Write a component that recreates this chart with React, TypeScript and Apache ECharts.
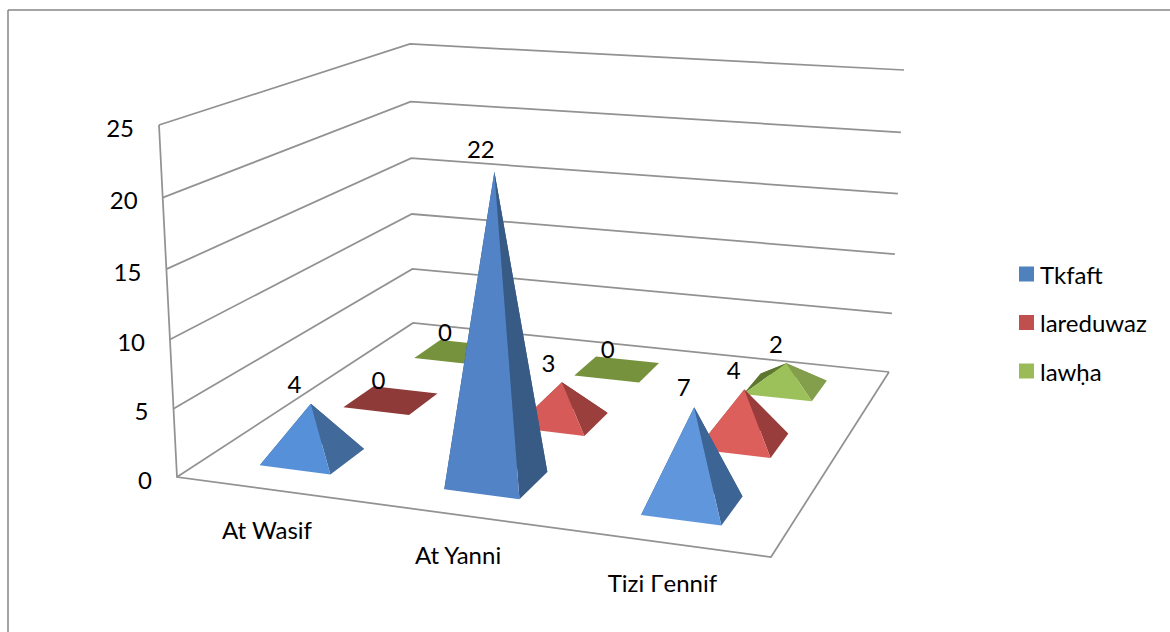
import React, { useEffect, useRef } from "react";
import * as echarts from "echarts";

const categories = ["At Wasif", "At Yanni", "Tizi Γennif"];
const tkfaft = [4, 22, 7];
const lareduwaz = [0, 3, 4];
const lawha = [0, 0, 2];
const seriesNames = ["Tkfaft", "lareduwaz", "lawḥa"];
const ticks = [0, 5, 10, 15, 20, 25];

const FONT = "Lato, Carlito, 'Noto Sans', sans-serif";
const FONT_SIZE = 24;
const AXIS = "#929292";
const MAX = 25;

type P = [number, number];
// floor corners and vertical vectors for the full axis height (view set-up)
const FL: P = [177, 477], FR: P = [771, 557], BR: P = [889, 372], BL: P = [413, 323];
const UP_FL: P = [-18, -352], UP_FR: P = [10, -378], UP_BR: P = [15, -302], UP_BL: P = [-3, -279];
const PERSPECTIVE = 0.04;

const H = (() => {
  const [x0, y0] = FL, [x1, y1] = FR, [x2, y2] = BR, [x3, y3] = BL;
  const dx1 = x1 - x2, dx2 = x3 - x2, sx = x0 - x1 + x2 - x3;
  const dy1 = y1 - y2, dy2 = y3 - y2, sy = y0 - y1 + y2 - y3;
  const d = dx1 * dy2 - dx2 * dy1;
  const g = (sx * dy2 - dx2 * sy) / d, h = (dx1 * sy - sx * dy1) / d;
  return { a: x1 - x0 + g * x1, b: x3 - x0 + h * x3, c: x0, d: y1 - y0 + g * y1, e: y3 - y0 + h * y3, f: y0, g, h };
})();

function floor(u: number, v: number): P {
  const w = H.g * u + H.h * v + 1;
  return [(H.a * u + H.b * v + H.c) / w, (H.d * u + H.e * v + H.f) / w];
}
function upAt(u: number, v: number): P {
  const bl = (i: number) =>
    (1 - u) * (1 - v) * UP_FL[i] + u * (1 - v) * UP_FR[i] + u * v * UP_BR[i] + (1 - u) * v * UP_BL[i];
  return [bl(0), bl(1)];
}
function pt(u: number, v: number, val: number): P {
  const f = floor(u, v), up = upAt(u, v);
  const t = val / MAX;
  const s = t / (1 + PERSPECTIVE * (1 - t));
  return [f[0] + up[0] * s, f[1] + up[1] * s];
}

const HALF_U = 0.065;
const HALF_V = 0.068;

const tones: Record<string, { front: string[]; side: string[]; left: string; flat: string }> = {
  Tkfaft: { front: ["#5590d8", "#5183c6", "#6097dc"], side: ["#41699a", "#375b85", "#3c6596"], left: "#2f4f78", flat: "#3c6596" },
  lareduwaz: { front: ["#d45b58", "#d65b58", "#dc5f5b"], side: ["#9a3f3c", "#9a3f3c", "#983d3b"], left: "#7d2f2d", flat: "#8e3a38" },
  "lawḥa": { front: ["#9cbf5a", "#9cbf5a", "#9cc05a"], side: ["#849f4c", "#849f4c", "#849f4c"], left: "#5d7630", flat: "#76923c" },
};

const poly = (points: P[], fill: string) => ({
  type: "polygon",
  shape: { points },
  style: { fill, stroke: null },
});

function pyramidSeries(name: string, depth: number, values: number[], color: string) {
  return {
    type: "custom",
    name,
    coordinateSystem: "none",
    itemStyle: { color },
    silent: true,
    data: values.map((v, i) => [i, v]),
    renderItem: (_: any, api: any) => {
      const c = api.value(0) as number;
      const val = api.value(1) as number;
      const u = (c + 0.5) / categories.length;
      const v = (depth + 0.5) / seriesNames.length;
      const t = tones[name];
      const a = pt(u - HALF_U, v - HALF_V, 0);
      const b = pt(u + HALF_U, v - HALF_V, 0);
      const d = pt(u + HALF_U, v + HALF_V, 0);
      const e = pt(u - HALF_U, v + HALF_V, 0);
      const apex = pt(u, v, val);
      const children: any[] = [];
      if (val === 0) {
        children.push(poly([a, b, d, e], t.flat));
      } else {
        children.push(poly([a, e, apex], t.left));
        children.push(poly([e, d, apex], t.left));
        children.push(poly([b, d, apex], t.side[c]));
        children.push(poly([a, b, apex], t.front[c]));
      }
      children.push({
        type: "text",
        style: {
          x: apex[0] - 18 + 9 * u + (val === 0 ? 4 : 0),
          y: apex[1] - 19 - val * 0.2 - (val === 0 ? 2 : 0),
          text: String(val),
          fill: "#000",
          font: `${FONT_SIZE}px ${FONT}`,
          align: "center",
          verticalAlign: "middle",
        },
      });
      return { type: "group", children };
    },
  };
}

function wallSeries() {
  return {
    type: "custom",
    name: "walls",
    coordinateSystem: "none",
    silent: true,
    data: ticks.map((t) => [t]),
    renderItem: (_: any, api: any) => {
      const t = api.value(0) as number;
      const children: any[] = [];
      const left = pt(0, 0, t);
      children.push({
        type: "polyline",
        shape: { points: [left, pt(0, 1, t), pt(1, 1, t)] },
        style: { stroke: AXIS, lineWidth: 1.75, fill: null },
      });
      children.push({
        type: "text",
        style: {
          x: left[0] - 25,
          y: left[1] + 2,
          text: String(t),
          fill: "#000",
          font: `${FONT_SIZE}px ${FONT}`,
          align: "right",
          verticalAlign: "middle",
        },
      });
      if (t === 0) {
        children.push({
          type: "polyline",
          shape: { points: [pt(0, 0, MAX), pt(0, 0, 0), pt(1, 0, 0), pt(1, 1, 0)] },
          style: { stroke: AXIS, lineWidth: 1.75, fill: null },
        });
      }
      return { type: "group", children };
    },
  };
}

function categorySeries() {
  return {
    type: "custom",
    name: "categories",
    coordinateSystem: "none",
    silent: true,
    data: categories.map((_, i) => [i]),
    renderItem: (_: any, api: any) => {
      const i = api.value(0) as number;
      const p = pt((i + 0.5) / categories.length, 0, 0);
      return {
        type: "text",
        style: {
          x: p[0] - 1,
          y: p[1] + 40,
          text: categories[i],
          fill: "#000",
          font: `${FONT_SIZE}px ${FONT}`,
          align: "center",
          verticalAlign: "middle",
        },
      };
    },
  };
}

export default function App() {
  const ref = useRef<HTMLDivElement>(null);
  useEffect(() => {
    document.body.style.margin = "0";
    const chart = echarts.init(ref.current!, undefined, { renderer: "svg" });
    chart.setOption({
      animation: false,
      backgroundColor: "#fff",
      graphic: [
        { type: "line", shape: { x1: 8, y1: 10, x2: 1170, y2: 10 }, style: { stroke: "#868686", lineWidth: 1.5 } },
        { type: "line", shape: { x1: 8, y1: 10, x2: 8, y2: 632 }, style: { stroke: "#868686", lineWidth: 1.5 } },
      ],
      legend: {
        data: seriesNames,
        orient: "vertical",
        left: 1014,
        top: 257,
        itemWidth: 15,
        itemHeight: 15,
        itemGap: 24.5,
        icon: "rect",
        selectedMode: false,
        textStyle: { fontFamily: FONT, fontSize: FONT_SIZE, lineHeight: 24, color: "#000", padding: [0, 0, 0, 1] },
      },
      series: [
        wallSeries(),
        categorySeries(),
        pyramidSeries(seriesNames[2], 2, lawha, "#9bbb59"),
        pyramidSeries(seriesNames[1], 1, lareduwaz, "#c0504d"),
        pyramidSeries(seriesNames[0], 0, tkfaft, "#4f81bd"),
      ],
    });
    return () => chart.dispose();
  }, []);
  return <div ref={ref} style={{ width: 1170, height: 632 }} />;
}
